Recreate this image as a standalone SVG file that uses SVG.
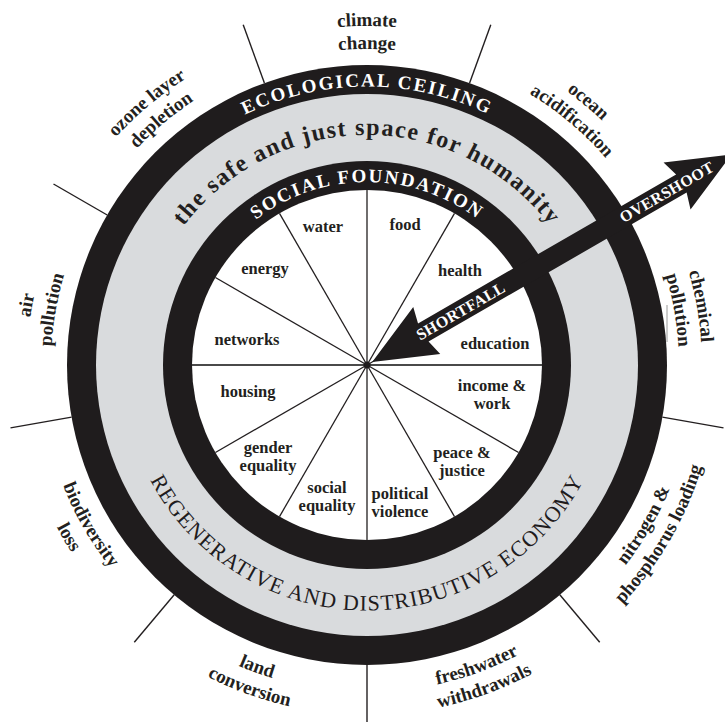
<svg xmlns="http://www.w3.org/2000/svg" xmlns:xlink="http://www.w3.org/1999/xlink" width="725" height="722" viewBox="0 0 725 722">
<style>
text{font-family:"Liberation Serif","Times New Roman",serif;fill:#231f20}
.lbl{font-weight:bold;font-size:16.5px;text-anchor:middle}
.eco{font-weight:bold;font-size:19px;text-anchor:middle}
.band{fill:#fff;font-weight:bold;font-size:19px;letter-spacing:2px;text-anchor:middle}
.safe{font-weight:bold;font-size:24px;letter-spacing:1.5px;text-anchor:middle}
.regen{font-size:22px;letter-spacing:1.1px;text-anchor:middle;fill:#1f1c1d}
.arrtxt{fill:#fff;font-weight:bold;font-size:16px;letter-spacing:0.3px;text-anchor:middle}
.spoke{stroke:#231f20;stroke-width:1.3}
.ospoke{stroke:#231f20;stroke-width:1.4}
</style>
<defs>
<path id="pEco" d="M88.5,365 A278.5,278.5 0 0 1 645.5,365"/>
<path id="pSafe" d="M137,365 A230,230 0 0 1 597,365"/>
<path id="pSoc" d="M184,365 A183,183 0 0 1 550,365"/>
<path id="pReg" d="M121.5,365 A245.5,245.5 0 0 0 612.5,365"/>
<path id="cc1" d="M73.4,195.5 A339,339 0 0 1 660.6,195.5"/>
<path id="cc2" d="M93.3,207 A316,316 0 0 1 640.7,207"/>
<path id="oa1" d="M251.1,46.4 A339,339 0 0 1 700.8,423.9"/>
<path id="oa2" d="M258.9,68.1 A316,316 0 0 1 678.2,419.9"/>
<path id="cp1" d="M481.6,50.2 A335,335 0 0 1 582.3,621.6"/>
<path id="cp2" d="M473.7,71.8 A312,312 0 0 1 567.6,604"/>
<path id="oz1" d="M33.2,423.9 A339,339 0 0 1 482.9,46.4"/>
<path id="oz2" d="M55.8,419.9 A316,316 0 0 1 475.1,68.1"/>
<path id="ap1" d="M148.4,625.4 A340,340 0 0 1 250.7,45.5"/>
<path id="ap2" d="M163.9,607.1 A316,316 0 0 1 258.9,68.1"/>
<path id="np1" d="M367,692 A327,327 0 0 0 650.2,201.5"/>
<path id="np2" d="M367,715 A350,350 0 0 0 670.1,190"/>
<path id="fw1" d="M156.8,615.5 A327,327 0 0 0 689,421.8"/>
<path id="fw2" d="M142,633.1 A350,350 0 0 0 711.7,425.8"/>
<path id="lc1" d="M45,421.8 A327,327 0 0 0 577.2,615.5"/>
<path id="lc2" d="M22.3,425.8 A350,350 0 0 0 592,633.1"/>
<path id="bl1" d="M83.8,201.5 A327,327 0 0 0 367,692"/>
<path id="bl2" d="M63.9,190 A350,350 0 0 0 367,715"/>
</defs>
<rect width="725" height="722" fill="#fff"/>

<g id="rings">
<circle cx="367" cy="365" r="300" fill="#1f1c1d"/>
<circle cx="367" cy="365" r="271" fill="#d9dbdd"/>
<circle cx="367" cy="365" r="204" fill="#1f1c1d"/>
<circle cx="367" cy="365" r="175" fill="#fff"/>
</g>

<g id="connectors">
<line class="spoke" x1="367" y1="365" x2="367" y2="190"/>
<line class="spoke" x1="367" y1="365" x2="454.5" y2="213.4"/>
<line class="spoke" x1="367" y1="365" x2="518.6" y2="277.5"/>
<line class="spoke" x1="367" y1="365" x2="518.6" y2="452.5"/>
<line class="spoke" x1="367" y1="365" x2="454.5" y2="516.6"/>
<line class="spoke" x1="367" y1="365" x2="367" y2="540"/>
<line class="spoke" x1="367" y1="365" x2="279.5" y2="516.6"/>
<line class="spoke" x1="367" y1="365" x2="215.4" y2="452.5"/>
<line class="spoke" x1="367" y1="365" x2="215.4" y2="277.5"/>
<line class="spoke" x1="367" y1="365" x2="279.5" y2="213.4"/>
<line x1="192" y1="365" x2="542" y2="365" stroke="#4a4a4a" stroke-width="2.2"/>
<circle cx="367" cy="365" r="3.5" fill="#1f1c1d"/>
<line class="ospoke" x1="469.6" y1="83.1" x2="490.8" y2="24.8"/>
<line class="ospoke" x1="662.4" y1="417.1" x2="723.5" y2="427.9"/>
<line class="ospoke" x1="559.8" y1="594.8" x2="599.7" y2="642.3"/>
<line class="ospoke" x1="367" y1="665" x2="367" y2="727"/>
<line class="ospoke" x1="174.2" y1="594.8" x2="134.3" y2="642.3"/>
<line class="ospoke" x1="71.6" y1="417.1" x2="10.5" y2="427.9"/>
<line class="ospoke" x1="107.2" y1="215" x2="53.5" y2="184"/>
<line class="ospoke" x1="264.4" y1="83.1" x2="243.2" y2="24.8"/>
<line x1="667" y1="305" x2="667" y2="342" stroke="#9a9a9a" stroke-width="1"/>
</g>

<g id="band-labels">
<text class="band"><textPath href="#pEco" startOffset="50%">ECOLOGICAL CEILING</textPath></text>
<text class="safe"><textPath href="#pSafe" startOffset="50%">the safe and just space for humanity</textPath></text>
<text class="band"><textPath href="#pSoc" startOffset="50%">SOCIAL FOUNDATION</textPath></text>
<text class="regen"><textPath href="#pReg" startOffset="50%">REGENERATIVE AND DISTRIBUTIVE ECONOMY</textPath></text>
</g>

<g id="arrow" transform="translate(367,365) rotate(-30)">
<polygon fill="#1f1c1d" points="6,0 69,-27 65,-10.5 363,-10.5 358,-27 421,0 358,27 363,10.5 65,10.5 69,27"/>
<text class="arrtxt" x="108" y="5.5">SHORTFALL</text>
<text class="arrtxt" x="346" y="5.5">OVERSHOOT</text>
</g>

<g id="social-water"><text class="lbl" x="323" y="232">water</text></g>
<g id="social-food"><text class="lbl" x="405" y="230">food</text></g>
<g id="social-energy"><text class="lbl" x="265" y="274">energy</text></g>
<g id="social-health"><text class="lbl" x="460" y="276">health</text></g>
<g id="social-networks"><text class="lbl" x="247" y="345">networks</text></g>
<g id="social-education"><text class="lbl" x="495" y="349">education</text></g>
<g id="social-housing"><text class="lbl" x="248" y="397">housing</text></g>
<g id="social-income"><text class="lbl" x="492" y="391">income &amp;<tspan x="492" y="409">work</tspan></text></g>
<g id="social-gender"><text class="lbl" x="268" y="453">gender<tspan x="268" y="471">equality</tspan></text></g>
<g id="social-peace"><text class="lbl" x="462" y="458">peace &amp;<tspan x="462" y="476">justice</tspan></text></g>
<g id="social-equality"><text class="lbl" x="327" y="493">social<tspan x="327" y="511">equality</tspan></text></g>
<g id="social-political"><text class="lbl" x="400" y="499">political<tspan x="400" y="517">violence</tspan></text></g>

<g id="eco-climate"><text class="eco"><textPath href="#cc1" startOffset="50%">climate</textPath></text><text class="eco"><textPath href="#cc2" startOffset="50%">change</textPath></text></g>
<g id="eco-ocean"><text class="eco"><textPath href="#oa1" startOffset="50%">ocean</textPath></text><text class="eco"><textPath href="#oa2" startOffset="50%">acidification</textPath></text></g>
<g id="eco-chemical"><text class="eco"><textPath href="#cp1" startOffset="50%">chemical</textPath></text><text class="eco"><textPath href="#cp2" startOffset="50%">pollution</textPath></text></g>
<g id="eco-nitrogen"><text class="eco"><textPath href="#np1" startOffset="50%">nitrogen &amp;</textPath></text><text class="eco"><textPath href="#np2" startOffset="50%">phosphorus loading</textPath></text></g>
<g id="eco-freshwater"><text class="eco"><textPath href="#fw1" startOffset="50%">freshwater</textPath></text><text class="eco"><textPath href="#fw2" startOffset="50%">withdrawals</textPath></text></g>
<g id="eco-land"><text class="eco"><textPath href="#lc1" startOffset="50%">land</textPath></text><text class="eco"><textPath href="#lc2" startOffset="50%">conversion</textPath></text></g>
<g id="eco-biodiversity"><text class="eco"><textPath href="#bl1" startOffset="50%">biodiversity</textPath></text><text class="eco"><textPath href="#bl2" startOffset="50%">loss</textPath></text></g>
<g id="eco-air"><text class="eco"><textPath href="#ap1" startOffset="50%">air</textPath></text><text class="eco"><textPath href="#ap2" startOffset="50%">pollution</textPath></text></g>
<g id="eco-ozone"><text class="eco"><textPath href="#oz1" startOffset="50%">ozone layer</textPath></text><text class="eco"><textPath href="#oz2" startOffset="50%">depletion</textPath></text></g>
</svg>
